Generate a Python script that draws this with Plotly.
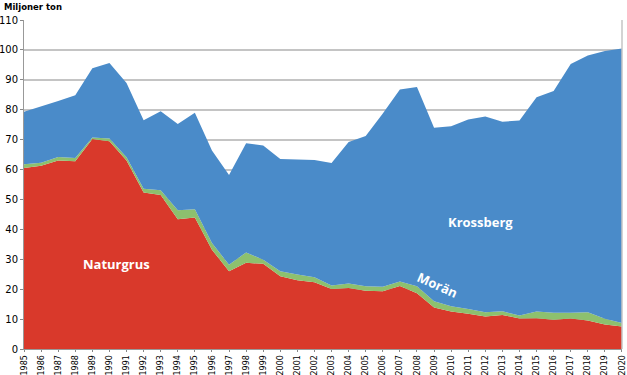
import plotly.graph_objects as go

years = list(range(1985, 2021))
naturgrus = [60.5, 61.3, 63.0, 62.8, 70.2, 69.5, 63.0, 52.3, 51.5, 43.4, 44.0, 33.2, 26.0, 28.8, 28.5,
             24.3, 23.0, 22.3, 20.1, 20.4, 19.5, 19.3, 21.1, 18.6, 13.9, 12.5, 11.8, 10.9, 11.4, 10.2,
             10.3, 9.8, 10.2, 9.5, 8.2, 7.5]
total_moran = [61.8, 62.3, 64.2, 63.9, 70.7, 70.4, 64.1, 53.6, 53.1, 46.4, 46.7, 35.4, 28.2, 32.3, 29.8,
               26.0, 24.9, 24.0, 21.2, 21.9, 21.0, 20.8, 22.6, 21.0, 16.0, 14.3, 13.4, 12.3, 12.6, 11.2,
               12.5, 12.1, 12.1, 12.3, 10.1, 8.7]
total = [79.3, 81.0, 82.9, 84.8, 93.9, 95.6, 88.9, 76.5, 79.5, 75.2, 79.0, 66.4, 58.2, 68.8, 68.0,
         63.5, 63.3, 63.2, 62.2, 69.2, 71.2, 78.7, 86.8, 87.6, 74.0, 74.5, 76.7, 77.7, 76.0, 76.4,
         84.2, 86.3, 95.3, 98.1, 99.6, 100.5]

moran = [round(m - n, 2) for m, n in zip(total_moran, naturgrus)]
krossberg = [round(t - m, 2) for t, m in zip(total, total_moran)]

y_ticks = list(range(0, 111, 10))

fig = go.Figure()
for name, vals, col in [("Naturgrus", naturgrus, "#d9392b"),
                        ("Morän", moran, "#8dc06e"),
                        ("Krossberg", krossberg, "#4a8bc9")]:
    fig.add_trace(go.Scatter(x=years, y=vals, name=name, stackgroup="one", mode="lines",
                             line=dict(width=0, color=col), fillcolor=col, hoverinfo="x+y"))

font_lbl = "Open Sans"
fig.add_annotation(x=1990.4, y=28.3, text="<b>Naturgrus</b>", showarrow=False,
                   font=dict(family=font_lbl, size=13, color="white"))
fig.add_annotation(x=2011.7, y=42.3, text="<b>Krossberg</b>", showarrow=False,
                   font=dict(family=font_lbl, size=13, color="white"))
fig.add_annotation(x=2009.2, y=21.3, text="<b>Morän</b>", showarrow=False, textangle=24,
                   font=dict(family=font_lbl, size=13, color="white"))
fig.add_annotation(xref="paper", yref="paper", x=-0.037, y=1.0, yshift=13, xanchor="left", yanchor="middle",
                   text="<b>Miljoner ton</b>", showarrow=False,
                   font=dict(family="DejaVu Sans", size=8.5, color="black"))

fig.update_layout(
    width=627, height=375,
    margin=dict(l=24, r=5, t=20, b=26),
    paper_bgcolor="white", plot_bgcolor="white",
    showlegend=False,
    xaxis=dict(range=[1984.999, 2020.001], tickmode="array", tickvals=years, ticktext=[str(y) for y in years],
               tickangle=-90, tickfont=dict(family="DejaVu Sans", size=8, color="black"),
               showgrid=False, ticks="outside", ticklen=2, tickcolor="#888", showline=True,
               linecolor="#999", linewidth=1, mirror=False, zeroline=False,
               automargin=False, ticklabeloverflow="allow"),
    yaxis=dict(range=[0, 110], tickvals=y_ticks, tickfont=dict(family="DejaVu Sans", size=10, color="black"),
               showgrid=True, gridcolor="#c4c4c4", gridwidth=1.5, showline=True, linecolor="#999",
               ticks="outside", ticklen=3, tickcolor="#888", zeroline=False, automargin=False),
)
fig.add_shape(type="line", xref="paper", yref="paper", x0=1, x1=1, y0=0, y1=1,
              line=dict(color="#c4c4c4", width=1.5))
fig.write_html("out.html", config={"displayModeBar": False},
               post_script="document.body.style.margin='0';document.body.style.overflow='hidden';")
